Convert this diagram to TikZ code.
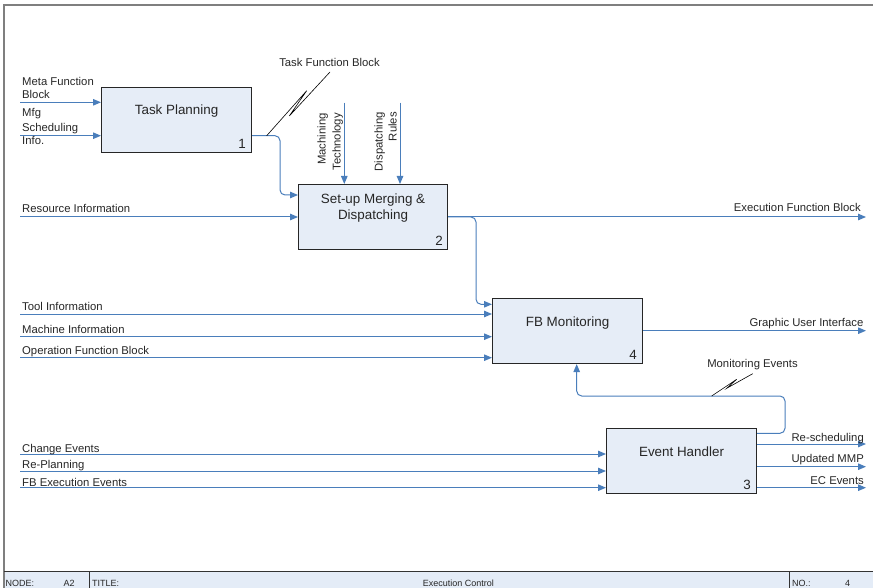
\documentclass[tikz,border=0pt]{standalone}
\usepackage{fontspec}
\setmainfont{Liberation Sans}
\usetikzlibrary{arrows.meta}
\definecolor{flow}{HTML}{4A7EBB}
\definecolor{boxfill}{HTML}{E6EDF7}
\definecolor{barfill}{HTML}{E4ECF7}
\definecolor{ink}{HTML}{262626}
\definecolor{frame}{HTML}{7F7F7F}
\begin{document}
\begin{tikzpicture}[x=1pt,y=-1pt,
  func/.style={draw=black!85, line width=1.1pt, fill=boxfill,
    minimum width=150pt, minimum height=65pt, inner sep=0pt, anchor=north west},
  fname/.style={font=\fontsize{13.4}{16}\selectfont, text=ink, align=center, inner sep=0pt},
  fnum/.style={font=\fontsize{13.4}{16}\selectfont, text=ink, inner sep=0pt, anchor=south east},
  lbl/.style={font=\fontsize{11.3}{13.5}\selectfont, text=ink, inner sep=0pt},
  flow/.style={draw=flow, line width=1pt, -{Triangle[length=8pt,width=6.5pt]}},
  squig/.style={draw=black, line width=0.6pt},
  bar/.style={font=\fontsize{9}{10}\selectfont, text=ink, inner sep=0pt, anchor=base west}]
\useasboundingbox (0,0) rectangle (873,588);

% sheet frame and footer bar
\fill[barfill] (4,571.3) rectangle (873,588);
\draw[frame, line width=1.6pt] (4,588) -- (4,5) -- (873,5);
\draw[black!80, line width=1pt] (4,571.3) -- (873,571.3);
\draw[black!80, line width=1pt] (89,571.3) -- (89,588);
\draw[black!80, line width=1pt] (789,571.3) -- (789,588);
\node[bar] (fnode) at (5.5,586) {NODE:};
\node[bar] (fnodeval) at (63.3,586) {A2};
\node[bar] (ftitle) at (92,586) {TITLE:};
\node[bar] (ftitleval) at (422.7,586) {Execution Control};
\node[bar] (fno) at (792,586) {NO.:};
\node[bar] (fnoval) at (845,586) {4};

% function boxes
\node[func] (b1) at (101,87) {};
\node[func, minimum width=149pt] (b2) at (298,184) {};
\node[func] (b4) at (492,298) {};
\node[func] (b3) at (606,428) {};
\node[fname] (t1) at ([yshift=9pt]b1.center) {Task Planning};
\node[fname] (t2) at ([yshift=9pt]b2.center) {Set-up Merging \&\\Dispatching};
\node[fname] (t4) at ([yshift=8.5pt]b4.center) {FB Monitoring};
\node[fname] (t3) at ([yshift=9pt]b3.center) {Event Handler};
\node[fnum] (n1) at ([shift={(-6pt,4pt)}]b1.south east) {1};
\node[fnum] (n2) at ([shift={(-5pt,4.5pt)}]b2.south east) {2};
\node[fnum] (n4) at ([shift={(-6pt,4.5pt)}]b4.south east) {4};
\node[fnum] (n3) at ([shift={(-6pt,4.5pt)}]b3.south east) {3};

% free ends of the boundary arrows
\coordinate (inMeta) at (20,102.3);
\coordinate (inMfg) at (20,135.7);
\coordinate (inRes) at (20,217);
\coordinate (inTool) at (20,314);
\coordinate (inMach) at (20,336.7);
\coordinate (inOper) at (20,357.7);
\coordinate (inChg) at (20,454);
\coordinate (inRepl) at (20,471);
\coordinate (inFBex) at (20,487.7);
\coordinate (ctlTech) at (344.3,102.7);
\coordinate (ctlRules) at (400,102.7);
\coordinate (outExec) at (866,217);
\coordinate (outGui) at (866,330.7);
\coordinate (outResch) at (866,444);
\coordinate (outMMP) at (866,466.7);
\coordinate (outEC) at (866,487.7);
\coordinate (fbTurn) at (576.7,396);

% inputs
\draw[flow] (inMeta) -- (inMeta -| b1.west);
\draw[flow] (inMfg) -- (inMfg -| b1.west);
\draw[flow] (inRes) -- (inRes -| b2.west);
\draw[flow] (inTool) -- (inTool -| b4.west);
\draw[flow] (inMach) -- (inMach -| b4.west);
\draw[flow] (inOper) -- (inOper -| b4.west);
\draw[flow] (inChg) -- (inChg -| b3.west);
\draw[flow] (inRepl) -- (inRepl -| b3.west);
\draw[flow] (inFBex) -- (inFBex -| b3.west);

% controls
\draw[flow] (ctlTech) -- (ctlTech |- b2.north);
\draw[flow] (ctlRules) -- (ctlRules |- b2.north);

% links between functions
\draw[flow, rounded corners=5pt] (b1.east |- inMfg) -- (280,135.7) -- (280,195) -- (b2.west |- 0,195);
\draw[flow] (b2.east |- outExec) -- (outExec);
\draw[flow, rounded corners=5pt] (b2.east |- outExec) -- (476,217) -- (476,304.3) -- (b4.west |- 0,304.3);
\draw[flow] (b4.east |- outGui) -- (outGui);
\draw[flow, rounded corners=5pt] (b3.east |- 0,433.3) -- (785,433.3) -- (785,396) -- (fbTurn) -- (fbTurn |- b4.south);
\draw[flow] (b3.east |- outResch) -- (outResch);
\draw[flow] (b3.east |- outMMP) -- (outMMP);
\draw[flow] (b3.east |- outEC) -- (outEC);

% arrow labels
\node[lbl, anchor=base west] (lMeta1) at (22,85.5) {Meta Function};
\node[lbl, anchor=base west] (lMeta2) at (22,98.9) {Block};
\node[lbl, anchor=base west] (lMfg1) at (22,116.5) {Mfg};
\node[lbl, anchor=base west] (lMfg2) at (22,131.5) {Scheduling};
\node[lbl, anchor=base west] (lMfg3) at (22,144.9) {Info.};
\node[lbl, anchor=base west] (lRes) at (22,212.5) {Resource Information};
\node[lbl, anchor=base west] (lTool) at (22,310.7) {Tool Information};
\node[lbl, anchor=base west] (lMach) at (22,333.2) {Machine Information};
\node[lbl, anchor=base west] (lOper) at (22,354.9) {Operation Function Block};
\node[lbl, anchor=base west] (lChg) at (22,452) {Change Events};
\node[lbl, anchor=base west] (lRepl) at (22,468.2) {Re-Planning};
\node[lbl, anchor=base west] (lFBex) at (22,486) {FB Execution Events};
\node[lbl, anchor=base east] (lExec) at (861,211.7) {Execution Function Block};
\node[lbl, anchor=base east] (lGui) at (863.5,326.5) {Graphic User Interface};
\node[lbl, anchor=base east] (lResch) at (864,441.5) {Re-scheduling};
\node[lbl, anchor=base east] (lMMP) at (864,462.2) {Updated MMP};
\node[lbl, anchor=base east] (lEC) at (864,484.9) {EC Events};
\node[lbl, rotate=90, anchor=base east] (lTech1) at (325.5,113) {Machining};
\node[lbl, rotate=90, anchor=base east] (lTech2) at (340.5,113) {Technology};
\node[lbl, rotate=90, anchor=base east] (lRule1) at (382.5,112) {Dispatching};
\node[lbl, rotate=90, anchor=base east] (lRule2) at (396.5,112) {Rules};

% squiggle labels
\node[lbl, anchor=base] (lTask) at (329.5,66.5) {Task Function Block};
\node[lbl, anchor=base] (lMon) at (752.5,367.2) {Monitoring Events};
\coordinate (sqTaskA) at (330,72);
\coordinate (sqTaskB) at (266.7,135.7);
\coordinate (sqMonA) at (752.7,373.7);
\coordinate (sqMonB) at (711.7,396);
\draw[squig] (sqTaskA) -- (289.3,116) -- (306.7,90.7) -- (sqTaskB);
\draw[squig] (sqMonA) -- (726.7,388.3) -- (736.7,379.3) -- (sqMonB);
\end{tikzpicture}
\end{document}
